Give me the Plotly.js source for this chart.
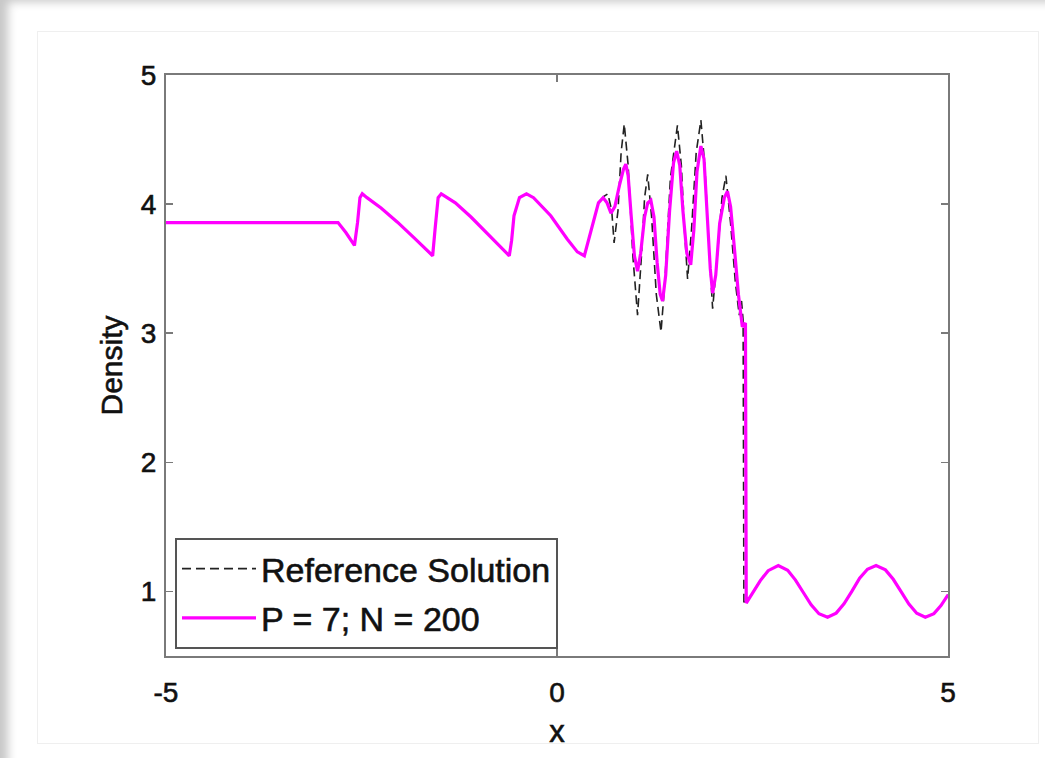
<!DOCTYPE html>
<html>
<head>
<meta charset="utf-8">
<script src="https://cdn.plot.ly/plotly-3.0.1.min.js"></script>
<style>
  html, body { margin: 0; padding: 0; width: 1045px; height: 758px; overflow: hidden; background: #ffffff; }
  #frame { position: absolute; left: 0; top: 0; width: 1045px; height: 758px;
           box-shadow: inset 14px 8px 10px -6px #c8c8c8; }
  #card { position: absolute; left: 37px; top: 31px; width: 1000px; height: 711px;
          border: 1px solid #efefef; }
  #chart { position: absolute; left: 0; top: 0; width: 1045px; height: 758px; }
  #chart text { stroke: #111 !important; stroke-width: 0.6px !important; }
</style>
</head>
<body>
<div id="frame"></div>
<div id="card"></div>
<div id="chart"></div>
<script>
// Computed solution: P = 7; N = 200
const solX = [-5, -2.80, -2.70, -2.59, -2.55, -2.52, -2.49, -2.43, -2.25, -2.04, -1.83, -1.66, -1.59,
  -1.56, -1.52, -1.48, -1.40, -1.30, -1.10, -0.89, -0.72, -0.61, -0.58, -0.55, -0.48, -0.39, -0.30,
  -0.08, 0.13, 0.26, 0.35, 0.45, 0.53, 0.59, 0.64, 0.69, 0.74, 0.80, 0.85, 0.88, 0.91, 0.95, 0.99, 1.03, 1.07,
  1.12, 1.16, 1.20, 1.24, 1.28, 1.32, 1.35, 1.39, 1.44, 1.49, 1.53, 1.57, 1.61, 1.66, 1.71, 1.75, 1.79, 1.84,
  1.88, 1.92, 1.96, 1.99, 2.03, 2.08, 2.14, 2.18, 2.22, 2.27, 2.32, 2.37, 2.41, 2.42, 2.50, 2.60, 2.70, 2.83,
  2.95, 3.05, 3.15, 3.25, 3.35, 3.46, 3.57, 3.67, 3.77, 3.87, 3.97, 4.08, 4.20, 4.30, 4.40, 4.50, 4.60, 4.71,
  4.82, 4.91, 5.00];
const solY = [3.857, 3.857, 3.78, 3.68, 3.86, 4.05, 4.08, 4.05, 3.97, 3.86, 3.74, 3.64, 3.60,
  3.80, 4.05, 4.08, 4.05, 4.01, 3.90, 3.77, 3.67, 3.60, 3.72, 3.91, 4.05, 4.08, 4.05,
  3.91, 3.73, 3.63, 3.60, 3.83, 4.01, 4.05, 4.01, 3.93, 3.98, 4.15, 4.27, 4.31, 4.22, 3.90, 3.60, 3.48, 3.62,
  3.90, 4.01, 4.03, 3.90, 3.55, 3.30, 3.25, 3.45, 3.95, 4.32, 4.41, 4.30, 3.95, 3.62, 3.53, 3.80, 4.25, 4.45,
  4.35, 3.95, 3.50, 3.31, 3.45, 3.85, 4.05, 4.10, 3.98, 3.65, 3.30, 3.05, 3.08, 0.91, 0.987, 1.084, 1.161, 1.20,
  1.164, 1.088, 0.992, 0.896, 0.827, 0.80, 0.832, 0.904, 1.00, 1.102, 1.172, 1.20, 1.167, 1.094, 0.998, 0.902, 0.831, 0.80,
  0.828, 0.890, 0.974];

// Reference solution
const refX = [-5, -2.80, -2.70, -2.59, -2.55, -2.52, -2.49, -2.43, -2.25, -2.04, -1.83, -1.66, -1.59,
  -1.56, -1.52, -1.48, -1.40, -1.30, -1.10, -0.89, -0.72, -0.61, -0.58, -0.55, -0.48, -0.39, -0.30,
  -0.08, 0.13, 0.26, 0.35, 0.45, 0.53, 0.60, 0.65, 0.70, 0.73, 0.78, 0.82, 0.86, 0.91, 0.97, 1.03,
  1.08, 1.12, 1.16, 1.21, 1.27, 1.33, 1.38, 1.45, 1.54, 1.59, 1.63, 1.67, 1.72, 1.78, 1.84, 1.89,
  1.94, 1.99, 2.05, 2.11, 2.16, 2.22, 2.28, 2.33, 2.36, 2.38, 2.39, 2.42, 2.50, 2.60, 2.70, 2.83,
  2.95, 3.05, 3.15, 3.25, 3.35, 3.46, 3.57, 3.67, 3.77, 3.87, 3.97, 4.08, 4.20, 4.30, 4.40, 4.50,
  4.60, 4.71, 4.82, 4.91, 5.00];
const refY = [3.857, 3.857, 3.78, 3.68, 3.86, 4.05, 4.08, 4.05, 3.97, 3.86, 3.74, 3.64, 3.60,
  3.80, 4.05, 4.08, 4.05, 4.01, 3.90, 3.77, 3.67, 3.60, 3.72, 3.91, 4.05, 4.08, 4.05,
  3.91, 3.73, 3.63, 3.60, 3.83, 4.01, 4.06, 4.08, 3.95, 3.70, 3.95, 4.40, 4.62, 4.30, 3.60, 3.14,
  3.60, 4.05, 4.23, 3.90, 3.30, 3.01, 3.40, 4.20, 4.61, 4.30, 3.80, 3.42, 3.80, 4.40, 4.65, 4.30,
  3.70, 3.19, 3.60, 4.05, 4.22, 3.85, 3.40, 3.14, 3.25, 3.10, 0.92, 0.91, 0.987, 1.084, 1.161, 1.20,
  1.164, 1.088, 0.992, 0.896, 0.827, 0.80, 0.832, 0.904, 1.00, 1.102, 1.172, 1.20, 1.167, 1.094, 0.998, 0.902,
  0.831, 0.80, 0.828, 0.890, 0.974];

const xTicks = [-5, 0, 5];
const yTicks = [1, 2, 3, 4, 5];
const seriesNames = ['Reference Solution', 'P = 7; N = 200'];

const font = 'Liberation Sans, Arial, Helvetica, sans-serif';
const axisColor = '#7a7a7a';

const traces = [
  { x: refX, y: refY, name: seriesNames[0], legendgroup: 'a', mode: 'lines', type: 'scatter',
    line: { color: '#222222', width: 1.6, dash: '9px,5px' } },
  { x: solX, y: solY, name: seriesNames[1], legendgroup: 'b', mode: 'lines', type: 'scatter',
    line: { color: '#ff00ff', width: 3.2 } }
];

const layout = {
  width: 1045, height: 758,
  paper_bgcolor: 'rgba(0,0,0,0)', plot_bgcolor: '#ffffff',
  margin: { l: 166, r: 97, t: 75, b: 102 },
  font: { family: font, color: '#111111', size: 28 },
  showlegend: true,
  legend: {
    x: 0.0115, y: 0.203, xanchor: 'left', yanchor: 'top',
    bgcolor: '#ffffff', bordercolor: '#555555', borderwidth: 2,
    font: { family: font, size: 34, color: '#111111' },
    itemwidth: 74, tracegroupgap: 2
  },
  xaxis: {
    range: [-5, 5], tickvals: xTicks, ticktext: xTicks.map(String),
    showgrid: false, zeroline: false, showline: true, linecolor: axisColor, linewidth: 2,
    mirror: 'ticks', ticks: 'inside', ticklen: 7, tickcolor: axisColor, tickwidth: 1.5,
    ticklabelstandoff: 10,
    tickfont: { family: font, size: 28, color: '#111111' },
    title: { text: 'x', font: { family: font, size: 31, color: '#111111' }, standoff: 14 }
  },
  yaxis: {
    range: [0.5, 5], tickvals: yTicks, ticktext: yTicks.map(String),
    showgrid: false, zeroline: false, showline: true, linecolor: axisColor, linewidth: 2,
    mirror: 'ticks', ticks: 'inside', ticklen: 7, tickcolor: axisColor, tickwidth: 1.5,
    ticklabelstandoff: 2,
    tickfont: { family: font, size: 28, color: '#111111' },
    title: { text: 'Density', font: { family: font, size: 30, color: '#111111' }, standoff: 9 }
  }
};

Plotly.newPlot('chart', traces, layout, { staticPlot: true, displayModeBar: false });
</script>
</body>
</html>
